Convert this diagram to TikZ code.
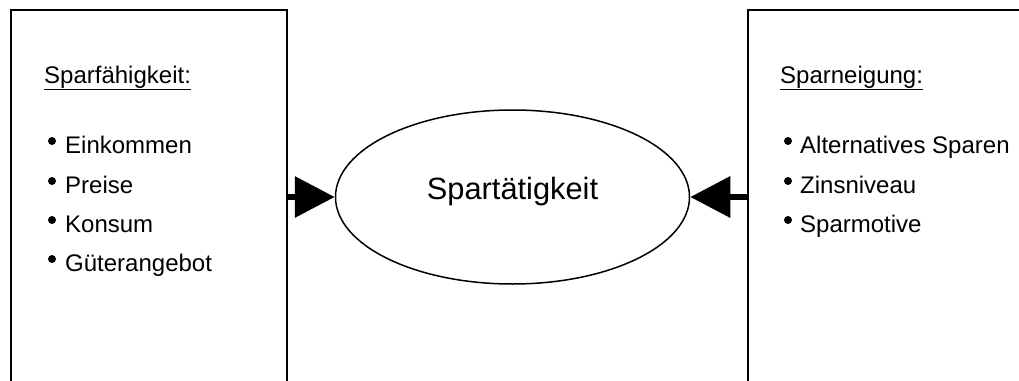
\documentclass[tikz,border=0pt]{standalone}
\usepackage{fontspec}
\setmainfont{Liberation Sans}
\usetikzlibrary{arrows.meta,shapes.geometric}
\begin{document}
\begin{tikzpicture}[x=1pt,y=-1pt,
  panel/.style={draw,line width=2pt,rectangle,inner sep=0pt},
  txt/.style={anchor=base west,inner sep=0pt,font=\fontsize{24}{28}\selectfont},
  bul/.style={fill=black},
  bigarrow/.style={line width=6.5pt,-{Triangle[length=40pt 0 0,width=40pt 0 0]}}]
\useasboundingbox (0,0) rectangle (1019,380);
\node[panel,minimum width=276pt,minimum height=390pt] (lbox) at (149,205) {};
\node[panel,minimum width=292pt,minimum height=390pt] (rbox) at (894,205) {};
\node[draw,ellipse,line width=1.5pt,minimum width=354pt,minimum height=174pt,inner sep=0pt,
  text height=11pt,text depth=6pt,font=\fontsize{30.8}{34}\selectfont] (ell) at (512.5,197) {Spartätigkeit};
\node[txt] (lh) at (44,83) {\underline{Sparfähigkeit:}};
\node[txt] (l1) at (65,153) {Einkommen};
\node[txt] (l2) at (65,193) {Preise};
\node[txt] (l3) at (65,232) {Konsum};
\node[txt] (l4) at (65,271) {Güterangebot};
\node[txt] (rh) at (780,83) {\underline{Sparneigung:}};
\node[txt] (r1) at (800,153) {Alternatives Sparen};
\node[txt] (r2) at (800,193) {Zinsniveau};
\node[txt] (r3) at (800,232) {Sparmotive};
\foreach \y in {141,181,220,259} \fill[bul] (52,\y) circle (4);
\foreach \y in {141,181,220} \fill[bul] (788,\y) circle (4);
\draw[bigarrow] (lbox.east |- ell.west) -- (ell.west);
\draw[bigarrow] (rbox.west |- ell.east) -- (ell.east);
\end{tikzpicture}
\end{document}
